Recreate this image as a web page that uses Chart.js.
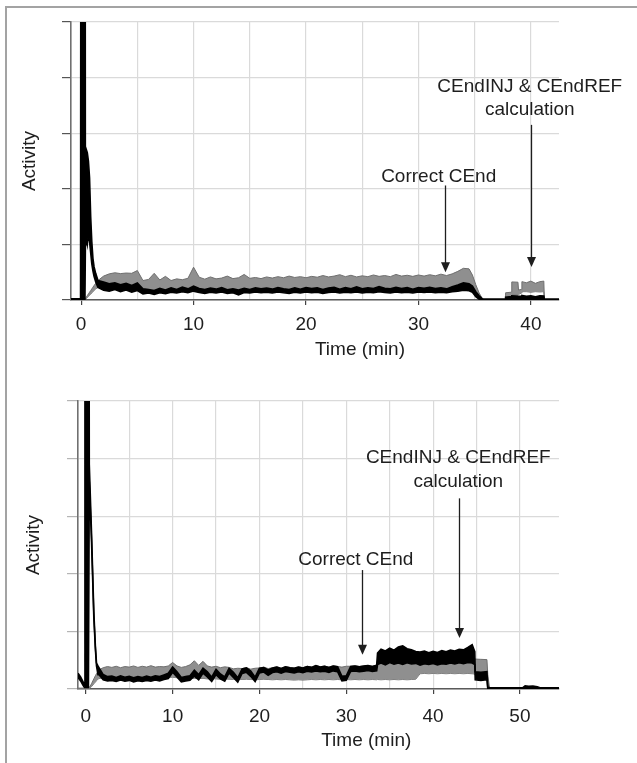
<!DOCTYPE html>
<html>
<head>
<meta charset="utf-8">
<script src="https://cdn.jsdelivr.net/npm/chart.js@4.4.1/dist/chart.umd.min.js"></script>
<style>
  html, body { margin: 0; padding: 0; background: #fff; overflow: hidden; }
  #frame { position: absolute; left: 5px; top: 6px; width: 640px; height: 770px;
           border-top: 2px solid #a3a3a3; border-left: 2px solid #a3a3a3; }
  .panel { position: absolute; left: 0; width: 637px; }
  #top { top: 0; height: 380px; }
  #bot { top: 380px; height: 383px; }
</style>
</head>
<body>
<div id="frame"></div>
<div class="panel" id="top"><canvas id="chartTop"></canvas></div>
<div class="panel" id="bot"><canvas id="chartBot"></canvas></div>
<script>
// ---- data: top panel ----
const tTop = [
  -0.9, -0.05, 0, 0.34, 0.38, 0.44, 0.47, 0.55, 0.65, 0.75, 0.85, 0.95, 1.05, 1.15, 1.3,
  1.5, 2, 2.5, 3, 3.5, 4, 4.5, 5, 5.5, 6,
  6.5, 7, 7.5, 8, 8.5, 9, 9.5, 10, 10.5, 11,
  11.5, 12, 12.5, 13, 13.5, 14, 14.5, 15, 15.5, 16,
  16.5, 17, 17.5, 18, 18.5, 19, 19.5, 20, 20.5, 21,
  21.5, 22, 22.5, 23, 23.5, 24, 24.5, 25, 25.5, 26,
  26.5, 27, 27.5, 28, 28.5, 29, 29.5, 30, 30.5, 31,
  31.5, 32, 32.5, 33, 33.5, 34, 34.5,
  34.8, 35.1, 35.4, 35.7, 36, 37,
  37.7, 37.75, 38.25, 38.3, 38.85, 38.9, 39.15, 39.2, 39.6, 40, 40.4, 40.8, 41.15, 41.2, 42.5
];
const blackLoTop = [
  0, 0, 0, 0, 20, 20, 22, 20, 24, 21, 17, 13, 10.5, 8.5, 6.5,
  4.5, 3.5, 3.2, 3.8, 3.0, 3.6, 2.8, 3.4, 2.2, 2.5,
  2.0, 2.6, 2.3, 2.8, 2.5, 3.0, 2.6, 3.2, 2.7, 2.4,
  2.8, 2.5, 2.9, 2.4, 2.6, 1.8, 2.7, 2.5, 2.9, 2.6,
  2.8, 2.5, 2.9, 2.6, 2.4, 2.8, 2.5, 2.9, 2.6, 2.8,
  2.4, 2.7, 2.9, 2.5, 2.8, 2.6, 2.9, 2.5, 2.8, 2.6,
  3.0, 2.7, 2.5, 2.9, 2.6, 2.8, 2.5, 2.9, 2.7, 2.9,
  2.6, 2.8, 2.6, 3.0, 3.2, 3.5, 3.3,
  2.8, 1.2, 0.3, 0, 0, 0,
  0, 0, 0, 0, 0, 0, 0, 0, 0, 0, 0, 0, 0, 0, 0
];
const blackHiTop = [
  0.4, 0.4, 300, 300, 20, 20, 54, 53, 50, 44, 30, 21, 15, 12, 9.5,
  7.0, 6.5, 5.8, 6.2, 5.5, 6.0, 5.2, 6.1, 4.0, 3.8,
  3.4, 4.2, 3.6, 4.4, 3.8, 4.6, 4.0, 5.0, 4.1, 3.8,
  4.3, 3.9, 4.5, 3.7, 4.0, 3.6, 4.2, 3.8, 4.4, 4.0,
  4.3, 3.9, 4.5, 4.0, 3.8, 4.4, 3.9, 4.5, 4.1, 4.4,
  3.8, 4.3, 4.6, 3.9, 4.5, 4.0, 4.7, 4.0, 4.4, 4.1,
  4.8, 4.2, 4.0, 4.6, 4.1, 4.5, 3.9, 4.5, 4.2, 4.6,
  4.1, 4.4, 4.0, 4.8, 5.4, 6.2, 5.8,
  5.0, 3.0, 1.5, 0.3, 0.3, 0.3,
  0.3, 1.0, 1.2, 1.5, 1.4, 1.3, 1.4, 1.6, 1.3, 1.5, 1.2, 1.5, 1.4, 0.3, 0.3
];
const grayLoTop = [
  0, 0, 0, 0, 0.2, 0.4, 0.5, 0.9, 1.3, 1.7, 2.1, 2.6, 3.0, 3.4, 4.0,
  4.5, 5.0, 5.2, 5.0, 5.2, 5.0, 5.3, 5.0, 3.5, 3.2,
  3.4, 3.0, 3.3, 3.1, 3.4, 3.2, 3.4, 3.5, 3.2, 3.3,
  3.1, 3.4, 3.2, 3.3, 3.1, 3.3, 3.2, 3.4, 3.2, 3.3,
  3.1, 3.3, 3.2, 3.4, 3.2, 3.3, 3.1, 3.3, 3.2, 3.4,
  3.2, 3.3, 3.1, 3.3, 3.2, 3.4, 3.2, 3.3, 3.1, 3.3,
  3.2, 3.4, 3.2, 3.3, 3.1, 3.3, 3.2, 3.4, 3.2, 3.3,
  3.1, 3.3, 3.2, 3.4, 3.5, 3.6, 3.5,
  3.0, 1.5, 0.3, 0, 0, 0,
  0, 0.6, 0.6, 2.0, 2.0, 2.0, 2.5, 3.0, 3.0, 2.8, 3.0, 2.9, 3.0, 0, 0
];
const grayHiTop = [
  0, 0, 0, 0.3, 0.6, 1.0, 1.2, 1.6, 2.2, 2.8, 3.4, 4.0, 4.6, 5.2, 6.0,
  7.0, 8.6, 9.4, 9.8, 9.5, 9.7, 9.6, 10.6, 7.0, 7.4,
  9.6, 7.2, 8.5, 7.0, 7.6, 7.3, 7.8, 11.8, 8.2, 7.5,
  8.3, 7.6, 7.9, 8.6, 7.7, 8.0, 9.2, 7.8, 8.1, 7.7,
  8.3, 7.9, 8.4, 8.0, 8.6, 8.1, 8.4, 8.0, 8.5, 8.2,
  8.8, 8.3, 8.6, 9.1, 8.4, 8.9, 8.3, 8.7, 8.4, 9.0,
  8.5, 8.8, 8.4, 9.2, 8.6, 8.9, 8.5, 9.0, 8.6, 9.1,
  8.7, 9.3, 8.8, 9.4, 10.3, 11.4, 11.2,
  9.0, 5.5, 2.5, 0.4, 0, 0,
  0, 2.6, 2.8, 6.5, 6.4, 3.6, 3.8, 6.6, 6.2, 6.8, 6.0, 6.6, 6.8, 0, 0
];

// ---- data: bottom panel ----
const tBot = [
  -0.9, -0.6, -0.3, -0.15, -0.1, 0.3, 0.4, 0.65, 0.92, 1.1, 1.23, 1.4,
  1.5, 2, 2.5, 3, 3.5, 4, 4.5, 5, 5.5, 6,
  6.5, 7, 7.5, 8, 8.5, 9, 9.5, 10, 10.5, 11,
  11.5, 12, 12.5, 13, 13.5, 14, 14.5, 15, 15.5, 16,
  16.5, 17, 17.5, 18, 18.5, 19, 19.5, 20, 20.5, 21,
  21.5, 22, 22.5, 23, 23.5, 24, 24.5, 25, 25.5, 26,
  26.5, 27, 27.5, 28, 28.5, 29, 29.5, 30, 30.5, 31,
  31.5, 32, 32.5, 33, 33.5,
  33.6, 34, 34.5, 35, 35.5, 36, 36.5, 37, 37.5, 38, 38.5, 39,
  39.5, 40, 40.5, 41, 41.5, 42, 42.5, 43, 43.5, 44, 44.5,
  44.8, 44.85, 45.5, 46.2, 46.3, 46.5, 47, 50.3, 50.6, 51, 51.5, 52, 52.3, 54.5
];
const blackLoBot = [
  4.0, 2.8, 1.2, 0.5, 0.5, 0.5, 72, 52, 25, 14, 8, 5,
  5.0, 3.2, 2.8, 3.0, 2.6, 3.1, 2.7, 3.0, 2.5, 2.9,
  2.6, 3.0, 2.7, 3.1, 2.8, 3.3, 3.6, 5.8, 4.2, 2.5,
  2.8, 3.0, 4.5, 3.2, 5.5, 4.2, 2.6, 5.0, 3.5, 2.7,
  5.6, 4.0, 2.4, 5.4, 5.8, 4.4, 2.6, 5.6, 5.9, 4.8,
  5.7, 6.0, 5.5, 6.1, 5.8, 5.6, 6.0, 5.7, 6.2, 5.9,
  6.3, 6.0, 6.2, 5.8, 6.3, 6.0, 2.8, 3.0, 6.1, 6.3,
  6.0, 6.2, 6.4, 6.1, 6.3,
  8.5, 9.0, 8.4, 9.2, 8.6, 9.0, 8.5, 9.1, 8.7, 8.9, 8.3, 8.8,
  8.5, 8.9, 8.4, 8.8, 8.6, 9.0, 8.7, 9.1, 8.8, 9.2, 9.0,
  8.5, 3.2, 3.0, 3.2, 0, 0, 0, 0, 0.2, 0.1, 0.2, 0.1, 0, 0
];
const blackHiBot = [
  5.5, 4.2, 2.4, 1.5, 300, 300, 78, 55, 27, 15, 9, 8,
  7.5, 5.0, 4.3, 4.5, 4.0, 4.6, 4.1, 4.4, 3.9, 4.3,
  4.0, 4.5, 4.1, 4.6, 4.3, 4.9, 5.5, 7.6, 6.0, 4.0,
  4.3, 4.6, 6.5, 5.0, 7.2, 6.0, 4.1, 6.8, 5.2, 4.2,
  7.2, 5.8, 3.9, 7.0, 7.3, 6.2, 4.1, 7.2, 7.4, 6.6,
  7.3, 7.6, 7.1, 7.7, 7.4, 7.2, 7.6, 7.3, 7.8, 7.5,
  8.1, 7.6, 7.9, 7.5, 8.0, 7.7, 4.4, 4.6, 7.8, 8.0,
  7.7, 8.0, 8.1, 7.8, 8.2,
  12.5, 13.8, 13.2, 14.2, 13.5, 14.6, 15.0, 14.0, 13.6, 13.0, 12.8, 13.2,
  12.6, 13.1, 12.7, 13.3, 12.9, 13.5, 13.2, 13.8, 13.6, 14.4, 15.4,
  13.0, 6.0, 5.8, 6.0, 0.6, 0.5, 0.4, 0.4, 1.1, 0.9, 1.0, 0.8, 0.4, 0.4
];
const grayLoBot = [
  0, 0, 0, 0, 0, 0, 0.1, 0.8, 1.8, 2.4, 2.9, 3.4,
  3.6, 3.9, 4.0, 3.9, 4.0, 3.8, 4.0, 3.9, 4.1, 3.9,
  4.0, 3.8, 4.0, 3.9, 4.0, 3.9, 4.0, 4.1, 3.9, 3.6,
  3.7, 3.6, 3.7, 3.6, 3.7, 3.5, 3.6, 3.5, 3.4, 3.5,
  3.4, 3.3, 3.4, 3.3, 3.4, 3.3, 3.2, 3.3, 3.4, 3.3,
  3.2, 3.3, 3.2, 3.3, 3.2, 3.1, 3.2, 3.1, 3.2, 3.3,
  3.2, 3.3, 3.2, 3.3, 3.2, 3.3, 3.2, 3.3, 3.2, 3.3,
  3.2, 3.3, 3.2, 3.3, 3.2,
  3.3, 3.2, 3.3, 3.2, 3.3, 3.2, 3.3, 3.2, 3.3, 3.4, 5.3, 5.4,
  5.3, 5.4, 5.3, 5.4, 5.3, 5.4, 5.3, 5.4, 5.3, 5.4, 5.3,
  5.2, 4.8, 4.8, 4.8, 2.0, 0, 0, 0, 0, 0, 0, 0, 0, 0
];
const grayHiBot = [
  0.3, 0.3, 0.3, 0.3, 0.3, 0.3, 0.5, 1.8, 3.5, 4.6, 5.3, 6.0,
  6.6, 7.4, 7.8, 7.5, 7.9, 7.4, 7.8, 7.6, 8.0, 7.5,
  7.9, 7.6, 8.1, 7.6, 7.8, 7.7, 8.0, 9.2, 8.0, 7.5,
  7.8, 8.4, 9.8, 8.2, 9.6, 8.0, 7.6, 7.9, 7.4, 7.7,
  7.5, 7.0, 7.2, 7.1, 7.4, 6.9, 7.2, 7.3, 7.6, 7.1,
  7.4, 7.7, 7.2, 7.8, 7.5, 7.3, 7.7, 7.4, 7.9, 7.6,
  8.2, 7.7, 8.0, 7.6, 8.1, 7.8, 7.6, 7.9, 7.9, 8.1,
  7.8, 8.0, 8.2, 7.9, 8.3,
  10.0, 10.6, 10.4, 10.8, 10.5, 10.7, 10.6, 10.9, 10.5, 10.6, 10.4, 10.7,
  10.5, 10.8, 10.4, 10.7, 10.5, 10.8, 10.6, 10.9, 10.7, 11.0, 10.8,
  10.6, 10.4, 10.3, 10.2, 5.0, 0.3, 0, 0, 0, 0, 0, 0, 0, 0
];

// ---- ticks ----
const yTicks = [0, 20, 40, 60, 80, 100];
const xGridTop = [0, 5, 10, 15, 20, 25, 30, 35, 40];
const xLabelTop = [0, 10, 20, 30, 40];
const xGridBot = [0, 5, 10, 15, 20, 25, 30, 35, 40, 45, 50];
const xLabelBot = [0, 10, 20, 30, 40, 50];

const FONT = '"Liberation Sans", Arial, sans-serif';
const INK = '#1e1e1e';
Chart.defaults.font.family = FONT;
Chart.defaults.font.size = 19;
Chart.defaults.color = INK;

// arrows + texts + x title, placed in data units
const notesPlugin = {
  id: 'notes',
  afterDraw(chart, args, opts) {
    const ctx = chart.ctx;
    const xs = chart.scales.x, ys = chart.scales.y;
    ctx.save();
    ctx.font = '19px ' + FONT;
    ctx.fillStyle = INK;
    ctx.strokeStyle = INK;
    ctx.textAlign = 'center';
    ctx.textBaseline = 'alphabetic';
    opts.items.forEach(n => {
      n.lines.forEach((line, k) => {
        ctx.fillText(line, xs.getPixelForValue(n.x), ys.getPixelForValue(n.base[k]));
      });
      const ax = Math.round(xs.getPixelForValue(n.arrowX)) + 0.5;
      const y0 = ys.getPixelForValue(n.from);
      const y1 = ys.getPixelForValue(n.to);
      ctx.lineWidth = 1.3;
      ctx.beginPath();
      ctx.moveTo(ax, y0);
      ctx.lineTo(ax, y1 - 8);
      ctx.stroke();
      ctx.beginPath();
      ctx.moveTo(ax - 4.5, y1 - 10);
      ctx.lineTo(ax + 4.5, y1 - 10);
      ctx.lineTo(ax, y1);
      ctx.closePath();
      ctx.fill();
    });
    const t = opts.xTitle;
    ctx.fillText(t.text, xs.getPixelForValue(t.x), chart.chartArea.bottom + t.dy);
    ctx.restore();
  }
};

function series(t, lo, hi, color, bg, bw) {
  return [
    { data: t.map((x, i) => ({ x, y: hi[i] })), borderColor: color, backgroundColor: bg,
      borderWidth: bw, fill: '+1', pointRadius: 0, tension: 0 },
    { data: t.map((x, i) => ({ x, y: lo[i] })), borderColor: color, backgroundColor: bg,
      borderWidth: bw, fill: false, pointRadius: 0, tension: 0 }
  ];
}

function makeChart(id, cfg) {
  return new Chart(document.getElementById(id), {
    type: 'line',
    data: {
      datasets: [
        ...series(cfg.t, cfg.blackLo, cfg.blackHi, '#000', '#000', 1.6),
        ...series(cfg.t, cfg.grayLo, cfg.grayHi, '#6f6f6f', '#8f8f8f', 1)
      ]
    },
    options: {
      responsive: true,
      maintainAspectRatio: false,
      animation: false,
      layout: { padding: { top: cfg.padTop, right: 78, left: 0, bottom: 0 } },
      plugins: {
        legend: { display: false },
        tooltip: { enabled: false },
        notes: cfg.notes
      },
      scales: {
        x: {
          type: 'linear',
          min: cfg.xMin, max: cfg.xMax,
          afterBuildTicks: s => { s.ticks = cfg.xGrid.map(v => ({ value: v })); },
          afterFit: s => { s.height = cfg.xHeight; },
          ticks: {
            autoSkip: false, maxRotation: 0, padding: cfg.xPad,
            callback: v => cfg.xLabels.includes(v) ? String(v) : ''
          },
          grid: {
            color: '#dadada', lineWidth: 1.2, tickLength: 5,
            tickColor: c => (c.tick && cfg.xLabels.includes(c.tick.value)) ? '#444' : 'rgba(0,0,0,0)'
          },
          border: { display: true, color: '#5a5a5a', width: 1.6 }
        },
        y: {
          min: 0, max: 100,
          afterBuildTicks: s => { s.ticks = yTicks.map(v => ({ value: v })); },
          afterFit: s => { s.width = cfg.yWidth; },
          ticks: { display: false },
          grid: { color: '#dadada', lineWidth: 1.2, tickLength: cfg.yTickLen, tickColor: cfg.yTickColor },
          border: { display: true, color: '#707070', width: 1.6 },
          title: { display: true, text: 'Activity', color: INK, font: { size: 19 },
                   padding: { top: cfg.titlePad, bottom: 0 } }
        }
      }
    },
    plugins: [notesPlugin]
  });
}

makeChart('chartTop', {
  t: tTop, blackLo: blackLoTop, blackHi: blackHiTop, grayLo: grayLoTop, grayHi: grayHiTop,
  xMin: -0.9, xMax: 42.5, xGrid: xGridTop, xLabels: xLabelTop,
  padTop: 22, xHeight: 80, xPad: 8.6, yWidth: 71, yTickLen: 9, yTickColor: '#555', titlePad: 18.3,
  notes: {
    items: [
      { lines: ['Correct CEnd'], x: 31.8, base: [42.4], arrowX: 32.4, from: 41.2, to: 10 },
      { lines: ['CEndINJ & CEndREF', 'calculation'], x: 39.9, base: [74.9, 66.5],
        arrowX: 40, from: 63, to: 11.9 }
    ],
    xTitle: { text: 'Time (min)', x: 24.8, dy: 55.3 }
  }
});

makeChart('chartBot', {
  t: tBot, blackLo: blackLoBot, blackHi: blackHiBot, grayLo: grayLoBot, grayHi: grayHiBot,
  xMin: -0.9, xMax: 54.5, xGrid: xGridBot, xLabels: xLabelBot,
  padTop: 21, xHeight: 74, xPad: 11.8, yWidth: 78, yTickLen: 11, yTickColor: '#b5b5b5', titlePad: 22.3,
  notes: {
    items: [
      { lines: ['Correct CEnd'], x: 31.1, base: [43.1], arrowX: 31.8, from: 41.3, to: 11.9 },
      { lines: ['CEndINJ & CEndREF', 'calculation'], x: 42.9, base: [78.3, 70.2],
        arrowX: 43, from: 66.2, to: 17.7 }
    ],
    xTitle: { text: 'Time (min)', x: 32.3, dy: 57.3 }
  }
});
</script>
</body>
</html>
